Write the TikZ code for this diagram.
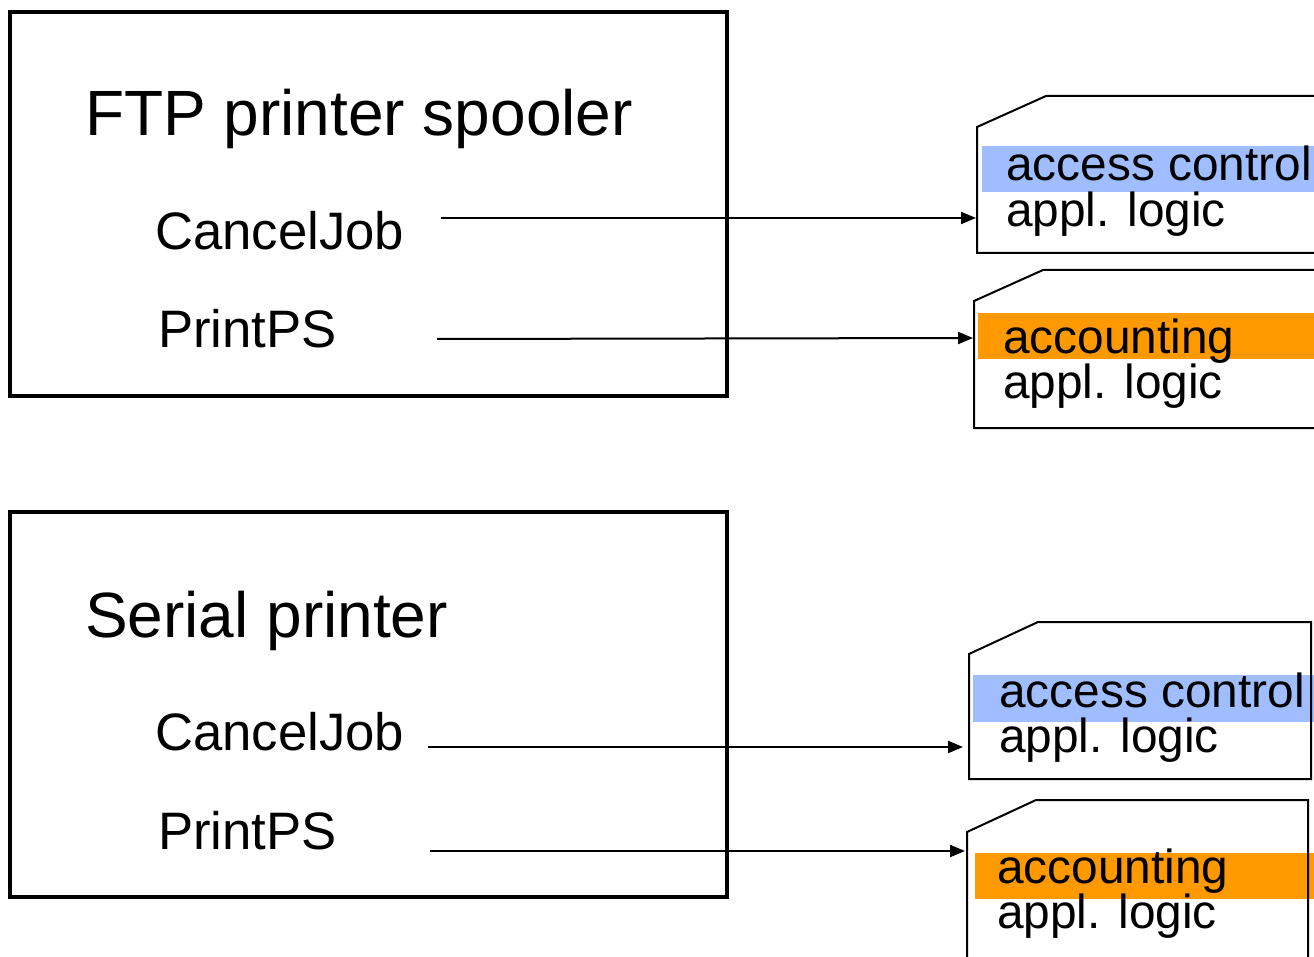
\documentclass[tikz,border=0pt]{standalone}
\usepackage{fontspec}
\setmainfont{Liberation Sans}
\usetikzlibrary{arrows.meta}
\definecolor{acblue}{RGB}{160,190,255}
\definecolor{acorange}{RGB}{255,153,0}
\tikzset{
  frame/.style={draw=black, line width=4pt},
  title/.style={anchor=base west, inner sep=0pt, font=\fontsize{64}{70}\selectfont},
  op/.style={anchor=base west, inner sep=0pt, font=\fontsize{52.7}{58}\selectfont},
  tag/.style={anchor=base west, inner sep=0pt, font=\fontsize{47.8}{52}\selectfont},
  module/.style={draw=black, line width=2pt, fill=white, line join=miter},
  call/.style={draw=black, line width=2pt, -{Triangle[length=15pt,width=12pt]}},
}
\begin{document}
\begin{tikzpicture}[x=1pt,y=-1pt]
\useasboundingbox (0,0) rectangle (1314,957);
\clip (0,0) rectangle (1314,957);

% --- host boxes ---
\draw[frame] (10,12) rectangle (727,396);
\draw[frame] (10,512) rectangle (727,897);

\node[title] (ftp) at (85,136) {FTP printer spooler};
\node[op] (cj1) at (155,250) {CancelJob};
\node[op] (pp1) at (158,348) {PrintPS};

\node[title] (ser) at (85,637) {Serial printer};
\node[op] (cj2) at (155,750) {CancelJob};
\node[op] (pp2) at (158,849) {PrintPS};

% --- module cards (chamfered top-left corner) ---
% access control / appl. logic (top)
\draw[module] (977,253) -- (977,127) -- (1046,96) -- (1330,96) -- (1330,253) -- cycle;
\fill[acblue] (982,146) rectangle (1320,192);
\node[tag] (ac1) at (1006,181) {access control};
\node[tag] (al1) at (1006,227) {appl. logic};
\coordinate (m1) at (976,218);

% accounting / appl. logic (top)
\draw[module] (974,428) -- (974,301) -- (1043,270) -- (1330,270) -- (1330,428) -- cycle;
\fill[acorange] (978,313) rectangle (1320,359);
\node[tag] (acc1) at (1003,353) {accounting};
\node[tag] (al2) at (1003,398) {appl. logic};
\coordinate (m2) at (973,338);

% access control / appl. logic (bottom)
\fill[white] (969,779) -- (969,654) -- (1038,622) -- (1311,622) -- (1311,779) -- cycle;
\fill[acblue] (973,675) rectangle (1320,722);
\draw[line width=2pt, line join=miter] (969,779) -- (969,654) -- (1038,622) -- (1311,622) -- (1311,779) -- cycle;
\node[tag] (ac2) at (999,707) {access control};
\node[tag] (al3) at (999,752) {appl. logic};
\coordinate (m3) at (963,747);

% accounting / appl. logic (bottom)
\fill[white] (967,970) -- (967,832) -- (1036,800) -- (1308,800) -- (1308,970) -- cycle;
\fill[acorange] (975,853) rectangle (1320,899);
\draw[line width=2pt, line join=miter] (967,970) -- (967,832) -- (1036,800) -- (1308,800) -- (1308,970);
\node[tag] (acc2) at (997,883) {accounting};
\node[tag] (al4) at (997,928) {appl. logic};
\coordinate (m4) at (965,851);

% --- calls ---
\coordinate (s1) at (441,218);
\coordinate (s2) at (437,339);
\coordinate (s3) at (428,747);
\coordinate (s4) at (430,851);
\draw[call] (s1) -- (m1);
\draw[call] (s2) -- (m2);
\draw[call] (s3) -- (m3);
\draw[call] (s4) -- (m4);
\end{tikzpicture}
\end{document}
